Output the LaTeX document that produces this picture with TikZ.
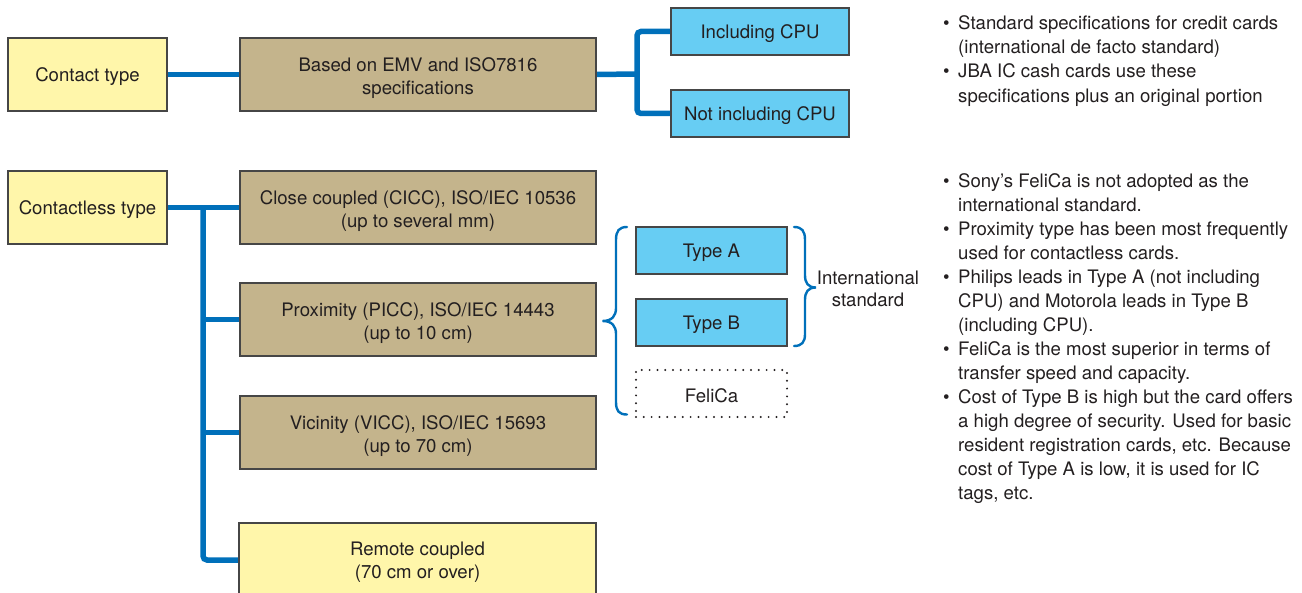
\documentclass[tikz,border=0pt]{standalone}
\usepackage{fontspec}
\setmainfont{TeX Gyre Heros}
\usetikzlibrary{backgrounds}

\definecolor{ink}{RGB}{35,31,32}
\definecolor{edge}{RGB}{70,70,70}
\definecolor{paleyellow}{RGB}{255,246,170}
\definecolor{khaki}{RGB}{196,180,140}
\definecolor{skyblue}{RGB}{103,205,243}
\definecolor{linkblue}{RGB}{0,112,186}

\newcommand{\boxfont}{\fontsize{18.6}{23}\selectfont}
\newcommand{\notefont}{\fontsize{18.6}{24.1}\selectfont}
\newcommand{\bul}{\makebox[15pt][l]{\textbullet}}
\newcommand{\ind}{\hspace*{15pt}}
% struts for the first line of a box label, keep the text block centred on the caps
\newcommand{\fl}{\rule{0pt}{18pt}}
\newcommand{\fll}{\rule{0pt}{22pt}}

\begin{document}
\begin{tikzpicture}[x=1pt,y=-1pt,
  box/.style={draw=edge, line width=1.1pt, inner sep=0pt, align=center,
              font=\boxfont, text=ink},
  bigbox/.style={box, minimum width=#1, minimum height=73pt},
  bigbox/.default=356pt,
  smallbox/.style={box, minimum width=#1, minimum height=47pt},
  smallbox/.default=178pt,
  yellowbox/.style={fill=paleyellow},
  tanbox/.style={fill=khaki},
  cyanbox/.style={fill=skyblue},
  dottedbox/.style={box, draw=ink, line width=2.2pt, dash pattern=on 0pt off 7.8pt,
                    line cap=round, minimum width=151pt, minimum height=47pt},
  conn/.style={draw=linkblue, line width=5.5pt, rounded corners=4pt},
  brace/.style={draw=linkblue, line width=2.4pt, line cap=round},
  note/.style={anchor=base west, align=left, inner sep=0pt, font=\notefont, text=ink}
]
\useasboundingbox (0,0) rectangle (1302,593);

% contact branch
\node[bigbox=159pt, yellowbox] (contact) at (87.5,74.5) {\fl Contact type};
\node[bigbox, tanbox] (emv) at (418,74.5) {\fll Based on EMV and ISO7816\\specifications};
\node[smallbox, cyanbox] (inc) at (760,31.5) {\fl Including CPU};
\node[smallbox, cyanbox] (notinc) at (760,113.5) {\fl Not including CPU};

% contactless branch
\node[bigbox=159pt, yellowbox] (cl) at (87.5,207.5) {\fl Contactless type};
\node[bigbox, tanbox] (cc) at (418,207.5) {\fll Close coupled (CICC), ISO/IEC 10536\\(up to several mm)};
\node[bigbox, tanbox] (prox) at (418,319.5) {\fll Proximity (PICC), ISO/IEC 14443\\(up to 10 cm)};
\node[bigbox, tanbox] (vic) at (418,432.5) {\fll Vicinity (VICC), ISO/IEC 15693\\(up to 70 cm)};
\node[bigbox=357pt, yellowbox, minimum height=74pt] (rem) at (417.5,560) {\fl Remote coupled\\(70 cm or over)};

% proximity card types
\node[smallbox=151pt, cyanbox] (ta) at (711.5,250.5) {\fl Type A};
\node[smallbox=151pt, cyanbox] (tb) at (711.5,322.5) {\fl Type B};
\node[dottedbox] (fe) at (711.5,393.5) {\fl FeliCa};

\node[align=center, inner sep=0pt, font=\fontsize{18.6}{22}\selectfont, text=ink]
  (intl) at (868,288.5) {International\\standard};

% connectors
\coordinate (fork) at (637,74);
\coordinate (trunk) at (203,207.5);
\begin{scope}[on background layer]
  \draw[conn] (contact.east) -- (emv.west);
  \draw[conn] (emv.east) -- (fork);
  \draw[conn] (inc.west) -| (fork) |- (notinc.west);
  \draw[conn] (cl.east) -- (cc.west);
  \draw[conn] (trunk) |- (rem.west);
  \draw[conn] (trunk |- prox.west) -- (prox.west);
  \draw[conn] (trunk |- vic.west) -- (vic.west);
\end{scope}

% braces
\draw[brace] (627,227) .. controls (619,227) and (616,231) .. (616,240)
  -- (616,308) .. controls (616,316) and (612,321) .. (602.5,321)
  .. controls (612,321) and (616,326) .. (616,334)
  -- (616,402) .. controls (616,411) and (619,414.5) .. (627,414.5);
\draw[brace] (794,227) .. controls (802,227) and (805,231) .. (805,240)
  -- (805,275) .. controls (805,283) and (808,287.5) .. (816,287.5)
  .. controls (808,287.5) and (805,292) .. (805,300)
  -- (805,334) .. controls (805,342) and (802,346) .. (794,346);

% notes (each node is placed by the baseline of its last line)
\node[note] (n1) at (943,53.6) {\bul Standard specifications for credit cards\\
  \ind(international de facto standard)};
\node[note] (n2) at (943,102.1) {\bul JBA IC cash cards use these\\
  \ind specifications plus an original portion};

\node[note] (n3) at (943,211.6) {\bul Sony’s FeliCa is not adopted as the\\
  \ind international standard.};
\node[note] (n4) at (943,259.6) {\bul Proximity type has been most frequently\\
  \ind used for contactless cards.};
\node[note] (n5) at (943,331.6) {\bul Philips leads in Type A (not including\\
  \ind CPU) and Motorola leads in Type B\\
  \ind(including CPU).};
\node[note] (n6) at (943,379.6) {\bul FeliCa is the most superior in terms of\\
  \ind transfer speed and capacity.};
\node[note] (n7) at (943,499.6) {\bul Cost of Type B is high but the card offers\\
  \ind a high degree of security. Used for basic\\
  \ind resident registration cards, etc. Because\\
  \ind cost of Type A is low, it is used for IC\\
  \ind tags, etc.};
\end{tikzpicture}
\end{document}
